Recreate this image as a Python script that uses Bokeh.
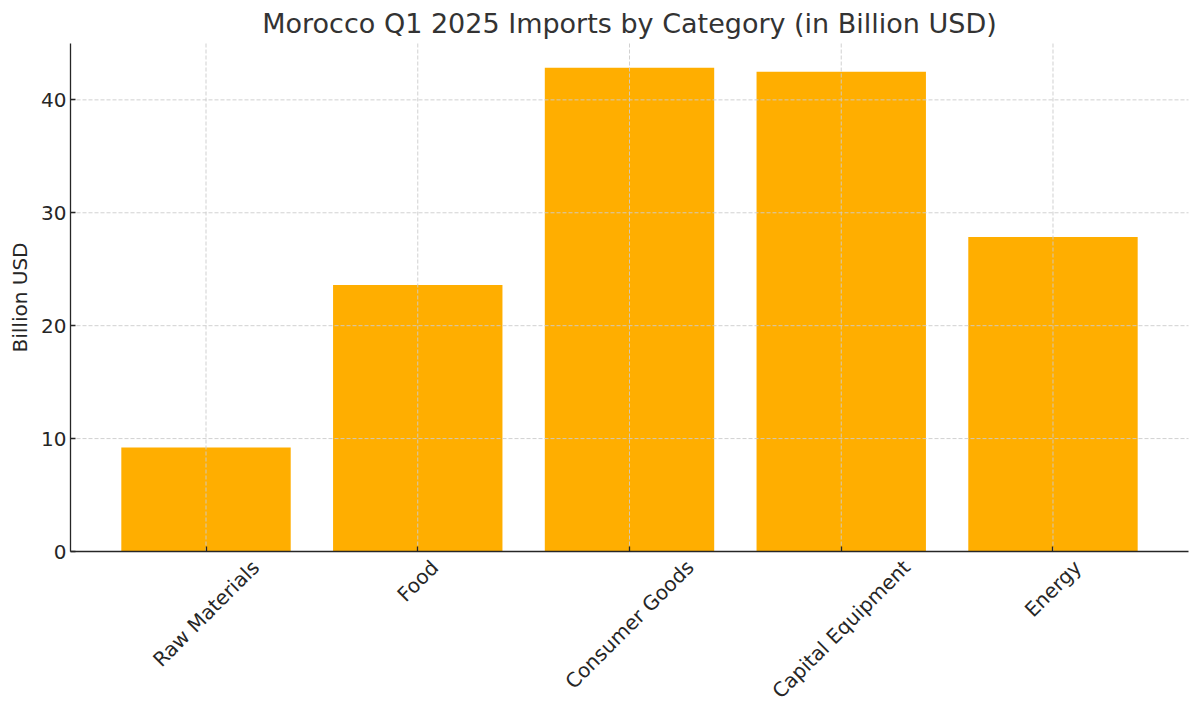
import math
from bokeh.plotting import figure
from bokeh.models import Label, FixedTicker, Range1d
from bokeh.embed import file_html
from bokeh.resources import INLINE

# ---- data ----
categories = ["Raw Materials", "Food", "Consumer Goods", "Capital Equipment", "Energy"]
values = [9.22, 23.6, 42.85, 42.5, 27.85]
y_ticks = [0, 10, 20, 30, 40]
title_text = "Morocco Q1 2025 Imports by Category (in Billion USD)"
y_label = "Billion USD"

# ---- layout (pixels) ----
FONT = "DejaVu Sans"
W, H = 1196, 711
PL, PR, PT, PB = 70, 1188, 43, 551          # visible plot area
n = len(categories)
xs = list(range(n))
span = (n - 1) + 0.8
xmin, xmax = -0.4 - 0.05 * span, (n - 1) + 0.4 + 0.05 * span
ymin, ymax = 0, max(values) * 1.05
ppx = (PR - PL) / (xmax - xmin)
ppy = (PB - PT) / (ymax - ymin)

x_range = Range1d(xmin - PL / ppx, xmax + (W - PR) / ppx)
y_range = Range1d(ymin - (H - PB) / ppy, ymax + PT / ppy)

p = figure(width=W, height=H, output_backend="svg", toolbar_location=None,
           x_range=x_range, y_range=y_range, min_border=0)
p.outline_line_color = None
p.background_fill_color = "white"
p.border_fill_color = "white"
p.xgrid.visible = False
p.ygrid.visible = False

p.vbar(x=xs, top=values, width=0.8, fill_color="#FFAE00", line_color=None)

# grid lines (dashed, over bars)
grid_y = [t for t in y_ticks if t > 0]
p.segment(x0=xs, y0=[ymin] * n, x1=xs, y1=[ymax] * n,
          line_color="#cccccc", line_alpha=0.9, line_dash="4 2", line_width=1)
p.segment(x0=[xmin] * len(grid_y), y0=grid_y, x1=[xmax] * len(grid_y), y1=grid_y,
          line_color="#cccccc", line_alpha=0.9, line_dash="4 2", line_width=1)

axis_col = "#262626"
xa, ya = p.xaxis[0], p.yaxis[0]
for ax in (xa, ya):
    ax.axis_line_color = axis_col
    ax.axis_line_width = 1.3
    ax.major_tick_line_color = axis_col
    ax.major_tick_line_width = 1.3
    ax.major_tick_in = 5
    ax.major_tick_out = 0
    ax.minor_tick_line_color = None
    ax.major_label_text_font = FONT
    ax.major_label_text_font_size = "20px"
    ax.major_label_text_color = axis_col

ya.fixed_location = xmin
ya.bounds = (ymin, ymax)
ya.ticker = FixedTicker(ticks=y_ticks)
ya.major_label_standoff = 4

xa.fixed_location = ymin
xa.bounds = (xmin, xmax)
xa.ticker = FixedTicker(ticks=xs)
xa.major_label_overrides = {i: "" for i in xs}

# approximate DejaVu Sans advance widths (units per em 2048) for label layout
ADV = {' ': 651, 'R': 1423, 'a': 1255, 'w': 1675, 'M': 1767, 't': 803, 'e': 1260, 'r': 842,
       'i': 569, 'l': 569, 's': 1067, 'F': 1178, 'o': 1253, 'd': 1300, 'C': 1430, 'n': 1298,
       'u': 1298, 'm': 1995, 'G': 1579, 'p': 1300, 'E': 1294, 'q': 1300, 'g': 1300, 'y': 1212,
       'c': 1126, 'b': 1300}

def text_w(s, fs):
    return sum(ADV.get(ch, 1250) for ch in s) / 2048 * fs

fs = 20
for xi, cat in zip(xs, categories):
    w = text_w(cat, fs)
    hh = 1.17 * fs
    off = 4 + (w + hh) * math.sin(math.pi / 4) / 2
    p.add_layout(Label(x=xi, y=ymin - off / ppy, text=cat, angle=math.pi / 4,
                       text_align="center", text_baseline="middle",
                       text_font=FONT, text_font_size="20px", text_color=axis_col))

# title
p.add_layout(Label(x=(xmin + xmax) / 2, y=ymax + 20 / ppy, text=title_text,
                   text_align="center", text_baseline="alphabetic",
                   text_font=FONT, text_font_size="27px", text_color="#333333"))
# y axis label
p.add_layout(Label(x=xmin - 51 / ppx, y=(ymin + ymax) / 2, text=y_label, angle=math.pi / 2,
                   text_align="center", text_baseline="alphabetic",
                   text_font=FONT, text_font_size="20px", text_color=axis_col))

open("out.html", "w").write(file_html(p, INLINE))
